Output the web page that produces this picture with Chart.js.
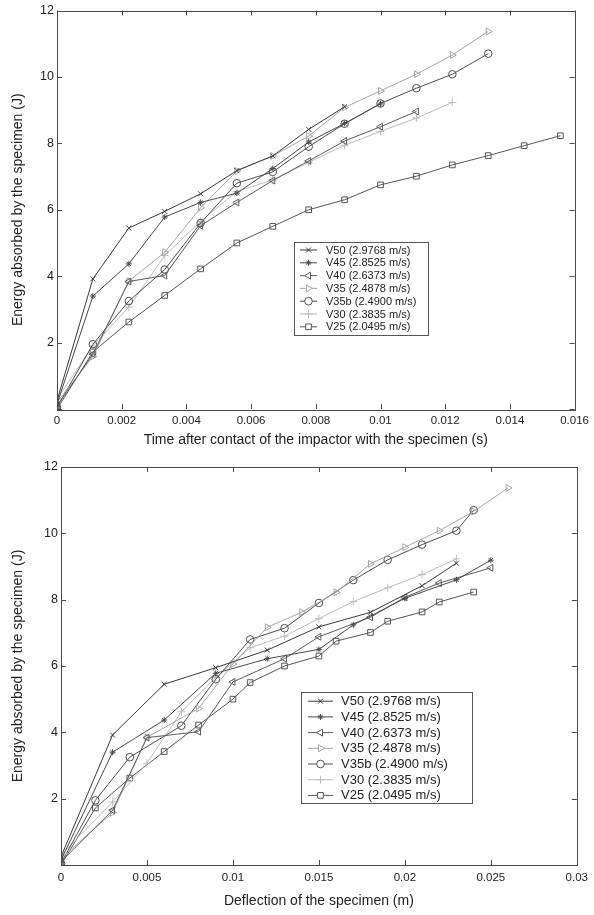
<!DOCTYPE html>
<html>
<head>
<meta charset="utf-8">
<script src="https://cdn.jsdelivr.net/npm/chart.js@4.4.1/dist/chart.umd.min.js"></script>
<style>
  html, body { margin: 0; padding: 0; background: #fff; }
  #wrap { position: relative; width: 594px; height: 915px; }
  canvas { position: absolute; left: 0; }
  #timeChart { top: 0; }
  #deflChart { top: 455px; }
</style>
</head>
<body>
<div id="wrap">
  <canvas id="timeChart" width="594" height="455"></canvas>
  <canvas id="deflChart" width="594" height="460"></canvas>
</div>
<script>
// 試験ケース (凡例)
const seriesLabels = [
    'V50 (2.9768 m/s)', 'V45 (2.8525 m/s)', 'V40 (2.6373 m/s)', 'V35 (2.4878 m/s)',
    'V35b (2.4900 m/s)', 'V30 (2.3835 m/s)', 'V25 (2.0495 m/s)'
];

// 接触後の時間 (s)
const timeS = [0, 0.00111, 0.00222, 0.00333, 0.00444, 0.00556, 0.00667, 0.00778,
    0.00889, 0.01, 0.01111, 0.01222, 0.01333, 0.01444, 0.01556];

// 吸収エネルギー (J)
const energyV50 = [0.25, 3.92, 5.45, 5.95, 6.48, 7.18, 7.62, 8.42, 9.1];
const energyV45 = [0.15, 3.4, 4.37, 5.78, 6.22, 6.5, 7.24, 8.04, 8.6, 9.19];
const energyV40 = [0.1, 1.65, 3.84, 4.02, 5.52, 6.22, 6.88, 7.47, 8.07, 8.5, 8.96];
const energyV35 = [0.2, 1.58, 3.85, 4.72, 6.06, 7.17, 7.62, 8.22, 9.08, 9.58, 10.08, 10.66, 11.37];
const energyV35b = [0.05, 1.95, 3.25, 4.2, 5.6, 6.8, 7.14, 7.9, 8.59, 9.2, 9.66, 10.08, 10.7];
const energyV30 = [0.3, 1.9, 3.07, 4.62, 5.65, 6.55, 6.9, 7.43, 7.94, 8.36, 8.76, 9.23];
const energyV25 = [0.0, 1.72, 2.62, 3.42, 4.22, 5.0, 5.5, 6.0, 6.3, 6.75, 7.01, 7.35, 7.63, 7.93, 8.23];

// たわみ (m)
const deflV50 = [0, 0.003, 0.006, 0.009, 0.012, 0.015, 0.018, 0.021, 0.023];
const deflV45 = [0, 0.003, 0.006, 0.009, 0.012, 0.015, 0.017, 0.020, 0.023, 0.025];
const deflV40 = [0, 0.003, 0.005, 0.008, 0.010, 0.013, 0.015, 0.018, 0.020, 0.022, 0.025];
const deflV35 = [0, 0.003, 0.005, 0.008, 0.010, 0.012, 0.014, 0.016, 0.018, 0.020, 0.022, 0.024, 0.026];
const deflV35b = [0, 0.002, 0.004, 0.007, 0.009, 0.011, 0.013, 0.015, 0.017, 0.019, 0.021, 0.023, 0.024];
const deflV30 = [0, 0.003, 0.005, 0.007, 0.009, 0.011, 0.013, 0.015, 0.017, 0.019, 0.021, 0.023];
const deflV25 = [0, 0.002, 0.004, 0.006, 0.008, 0.010, 0.011, 0.013, 0.015, 0.016, 0.018, 0.019, 0.021, 0.022, 0.024];

const energies = [energyV50, energyV45, energyV40, energyV35, energyV35b, energyV30, energyV25];
const deflections = [deflV50, deflV45, deflV40, deflV35, deflV35b, deflV30, deflV25];

// 見た目
const seriesColors = ['#3a3a3a', '#4a4a4a', '#5c5c5c', '#a6a6a6', '#4e4e4e', '#bdbdbd', '#565656'];
const pointStyles = ['crossRot', 'star', 'triangle', 'triangle', 'circle', 'cross', 'rect'];
const pointRotations = [0, 0, -90, 90, 0, 0, 0];
const pointRadii = [3.5, 3, 4, 4, 3.8, 4, 4];
const FONT = 'Arial, "Liberation Sans", sans-serif';

function fmtTick(v) {
    if (Math.abs(v) < 1e-12) return '0';
    return String(parseFloat(v.toFixed(4)));
}

function buildDatasets(xArrays) {
    return seriesLabels.map(function (label, i) {
        return {
            label: label,
            data: energies[i].map(function (e, k) { return { x: xArrays[i][k], y: e }; }),
            borderColor: seriesColors[i],
            borderWidth: 1,
            pointStyle: pointStyles[i],
            pointRotation: pointRotations[i],
            pointRadius: pointRadii[i],
            pointBorderColor: seriesColors[i],
            pointBackgroundColor: 'rgba(0,0,0,0)',
            pointBorderWidth: 1,
            fill: false,
            tension: 0
        };
    });
}

/**
 * 枠線と内向きの目盛を描く (MATLAB風)
 */
const frameTicks = {
    id: 'frameTicks',
    afterDatasetsDraw(chart) {
        const { ctx, chartArea: a, scales } = chart;
        const len = 5;
        ctx.save();
        ctx.strokeStyle = '#4a4a4a';
        ctx.lineWidth = 1;
        ctx.beginPath();
        scales.x.ticks.forEach(function (t) {
            const px = Math.round(scales.x.getPixelForValue(t.value)) + 0.5;
            ctx.moveTo(px, a.bottom); ctx.lineTo(px, a.bottom - len);
            ctx.moveTo(px, a.top); ctx.lineTo(px, a.top + len);
        });
        scales.y.ticks.forEach(function (t) {
            const py = Math.round(scales.y.getPixelForValue(t.value)) + 0.5;
            ctx.moveTo(a.left, py); ctx.lineTo(a.left + len, py);
            ctx.moveTo(a.right, py); ctx.lineTo(a.right - len, py);
        });
        ctx.stroke();
        ctx.strokeRect(Math.round(a.left) + 0.5, Math.round(a.top) + 0.5,
            Math.round(a.right - a.left), Math.round(a.bottom - a.top));
        ctx.restore();
    }
};

/**
 * 枠付き凡例をプロット内の指定位置に描く
 */
const boxLegend = {
    id: 'boxLegend',
    afterDraw(chart, args, opts) {
        const ctx = chart.ctx;
        ctx.save();
        ctx.fillStyle = '#fff';
        ctx.fillRect(opts.x, opts.y, opts.w, opts.h);
        ctx.strokeStyle = '#555';
        ctx.lineWidth = 1;
        ctx.strokeRect(opts.x + 0.5, opts.y + 0.5, opts.w, opts.h);
        ctx.font = opts.fontSize + 'px ' + FONT;
        ctx.textBaseline = 'middle';
        chart.data.datasets.forEach(function (ds, i) {
            const cy = opts.firstRow + i * opts.rowH;
            ctx.strokeStyle = ds.borderColor;
            ctx.beginPath();
            ctx.moveTo(opts.lineX0, cy + 0.5);
            ctx.lineTo(opts.lineX1, cy + 0.5);
            ctx.stroke();
            ctx.fillStyle = '#fff';
            Chart.helpers.drawPoint(ctx, {
                pointStyle: ds.pointStyle,
                rotation: ds.pointRotation,
                radius: ds.pointRadius,
                borderWidth: 1
            }, (opts.lineX0 + opts.lineX1) / 2, cy + 0.5);
            ctx.fillStyle = '#222';
            ctx.fillText(ds.label, opts.textX, cy + 1);
        });
        ctx.restore();
    }
};

function makeChart(canvasId, xArrays, cfg) {
    const ctx = document.getElementById(canvasId);
    return new Chart(ctx.getContext('2d'), {
        type: 'line',
        data: { datasets: buildDatasets(xArrays) },
        options: {
            responsive: false,
            animation: false,
            layout: { padding: cfg.padding },
            plugins: {
                legend: { display: false },
                tooltip: { enabled: false },
                boxLegend: cfg.legend
            },
            scales: {
                x: {
                    type: 'linear',
                    min: 0,
                    max: cfg.xMax,
                    grid: { display: false, drawTicks: false },
                    border: { display: false },
                    afterFit: function (scale) { scale.height = cfg.xAxisH; },
                    ticks: {
                        stepSize: cfg.xStep,
                        padding: cfg.xTickPad,
                        color: '#222',
                        font: { family: FONT, size: 11.5 },
                        maxRotation: 0,
                        callback: function (v) { return fmtTick(v); }
                    },
                    title: {
                        display: true,
                        text: cfg.xTitle,
                        color: '#222',
                        font: { family: FONT, size: 14 },
                        padding: { top: 0, bottom: cfg.xTitlePad }
                    }
                },
                y: {
                    type: 'linear',
                    min: 0,
                    max: 12,
                    grid: { display: false, drawTicks: false },
                    border: { display: false },
                    afterFit: function (scale) { scale.width = cfg.yAxisW; },
                    ticks: {
                        stepSize: 2,
                        padding: 3,
                        color: '#222',
                        font: { family: FONT, size: 12.5 },
                        callback: function (v) { return v === 0 ? '' : String(v); }
                    },
                    title: {
                        display: true,
                        text: 'Energy absorbed by the specimen (J)',
                        color: '#222',
                        font: { family: FONT, size: 14 },
                        padding: { top: 9.5, bottom: 0 }
                    }
                }
            }
        },
        plugins: [frameTicks, boxLegend]
    });
}

makeChart('timeChart', seriesLabels.map(function (_, i) { return timeS.slice(0, energies[i].length); }), {
    padding: { left: 0, top: 9, right: 16, bottom: 0 },
    xMax: 0.016, xStep: 0.002, xAxisH: 46, yAxisW: 57, xTickPad: 5, xTitlePad: 6.5,
    xTitle: 'Time after contact of the impactor with the specimen (s)',
    legend: { x: 294, y: 242, w: 134, h: 93, firstRow: 249.5, rowH: 12.8,
        lineX0: 300, lineX1: 317, textX: 326, fontSize: 11 }
});

makeChart('deflChart', deflections, {
    padding: { left: 0, top: 12, right: 14, bottom: 0 },
    xMax: 0.03, xStep: 0.005, xAxisH: 50, yAxisW: 61, xTickPad: 6, xTitlePad: 5,
    xTitle: 'Deflection of the specimen (m)',
    legend: { x: 301, y: 237, w: 171, h: 111, firstRow: 245.7, rowH: 15.7,
        lineX0: 308, lineX1: 333, textX: 341, fontSize: 13 }
});
</script>
</body>
</html>
